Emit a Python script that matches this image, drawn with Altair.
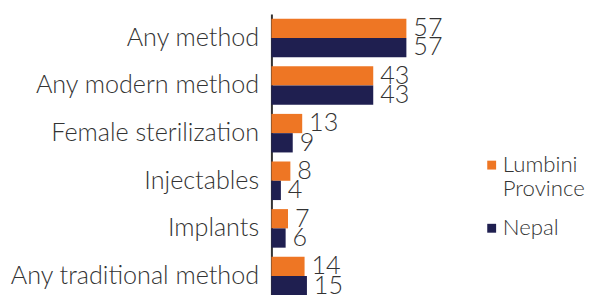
import altair as alt
import pandas as pd

categories = ["Any method", "Any modern method", "Female sterilization",
              "Injectables", "Implants", "Any traditional method"]
lumbini = [57, 43, 13, 8, 7, 14]
nepal = [57, 43, 9, 4, 6, 15]
series = ["Lumbini Province", "Nepal"]
colors = ["#EE7624", "#1F1F50"]

rows = []
for c, a, b in zip(categories, lumbini, nepal):
    rows.append({"cat": c, "series": series[0], "value": a})
    rows.append({"cat": c, "series": series[1], "value": b})
df = pd.DataFrame(rows)

FONT = "Lato"
FS = 25.5
FW = 300

y = alt.Y("cat:N", sort=categories, title=None,
          scale=alt.Scale(paddingInner=0.19, paddingOuter=0.1),
          axis=alt.Axis(ticks=False, labelFontSize=FS, labelFont=FONT,
                        labelFontWeight=FW,
                        labelColor="#333333", labelPadding=13,
                        domainColor="#333333", domainWidth=2, labelLimit=300))
yoff = alt.YOffset("series:N", sort=series)
x = alt.X("value:Q", scale=alt.Scale(domain=[0, 60]), axis=None)
color = alt.Color("series:N", sort=series,
                  scale=alt.Scale(domain=series, range=colors),
                  legend=alt.Legend(title=None, orient="none", legendX=212, legendY=142,
                                    symbolType="square", symbolSize=81,
                                    labelFontSize=22.5, labelFont=FONT,
                                    labelFontWeight=FW,
                                    labelColor="#333333", rowPadding=16,
                                    labelOffset=0, labelLimit=200,
                                    labelExpr="datum.label == 'Lumbini Province' ? ['Lumbini', 'Province'] : datum.label"))

base = alt.Chart(df)
bars = base.mark_bar().encode(y=y, yOffset=yoff, x=x, color=color)
text = base.mark_text(align="left", baseline="middle", dx=7, fontSize=FS,
                      font=FONT, fontWeight=FW, color="#333333").encode(
    y=y, yOffset=yoff, x=x, text="value:Q")

chart = (bars + text).properties(
    width=144, height=290,
    padding={"top": 4, "left": 267, "right": 186, "bottom": 0},
    autosize=alt.AutoSizeParams(type="none"),
).configure_view(stroke=None)

chart.save("out.html", embed_options={"renderer": "svg", "actions": False})
